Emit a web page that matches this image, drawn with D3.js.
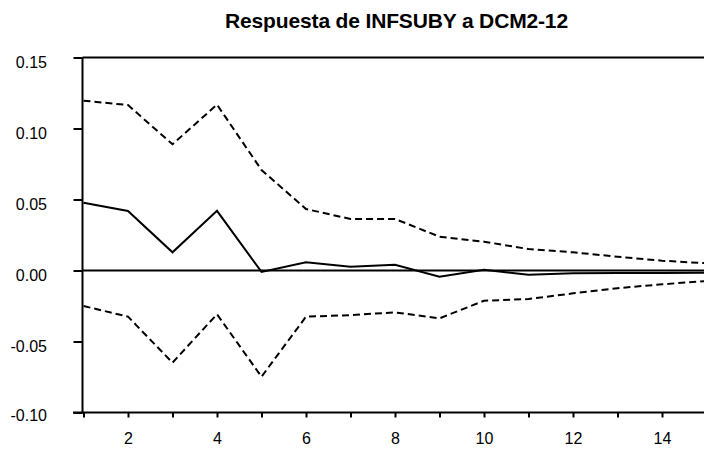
<!DOCTYPE html>
<html>
<head>
<meta charset="utf-8">
<script src="https://cdn.jsdelivr.net/npm/d3@7"></script>
<style>
    body { margin: 0; background: #fff; }
    svg { display: block; font-family: "Liberation Sans", Arial, sans-serif; }
</style>
</head>
<body>
<svg id="chart"></svg>
<script>
// periods 1..15
const periods = [1, 2, 3, 4, 5, 6, 7, 8, 9, 10, 11, 12, 13, 14, 15];
// response of INFSUBY to a DCM2-12 shock
const response = [0.0477, 0.0419, 0.0128, 0.0420, -0.0010, 0.0058, 0.0027, 0.0041, -0.0044, 0.0005, -0.0030, -0.0020, -0.0018, -0.0017, -0.0016];
// +/- 2 s.e. bands
const upperBand = [0.1196, 0.1165, 0.0889, 0.1168, 0.0708, 0.0433, 0.0363, 0.0363, 0.0238, 0.0203, 0.0151, 0.0128, 0.0097, 0.0069, 0.0051];
const lowerBand = [-0.0250, -0.0325, -0.0649, -0.0308, -0.0748, -0.0325, -0.0314, -0.0295, -0.0337, -0.0213, -0.0201, -0.0161, -0.0125, -0.0097, -0.0074];
const yTicks = [-0.10, -0.05, 0.00, 0.05, 0.10, 0.15];
const chartTitle = 'Respuesta de INFSUBY a DCM2-12';

class ImpulseVis {
    constructor(_config, _data) {
        this.config = {
            parentElement: _config.parentElement,
            name: _config.name,
            width: 704,
            height: 451,
            left: 82.5,
            right: 704,
            top: 57.5,
            bottom: 412.5
        }
        this.data = _data;
        this.initVis();
    }

    initVis() {
        let vis = this;
        const c = vis.config;

        vis.svg = d3.select(c.parentElement)
            .attr('width', c.width)
            .attr('height', c.height);

        vis.xScale = d3.scaleLinear()
            .domain([1, 15])
            .range([83.5, 706.5]);

        vis.yScale = d3.scaleLinear()
            .domain([-0.10, 0.15])
            .range([c.bottom, c.top]);

        vis.title = vis.svg.append('text')
            .attr('x', 396.5)
            .attr('y', 28)
            .attr('text-anchor', 'middle')
            .style('font-size', '21px')
            .style('font-weight', 'bold')
            .style('letter-spacing', '-0.15px')
            .text(c.name);

        vis.yAxisG = vis.svg.append('g')
            .attr('transform', `translate(${c.left},0)`);
        vis.xAxisG = vis.svg.append('g')
            .attr('transform', `translate(0,${c.bottom})`);

        vis.chart = vis.svg.append('g');
    }

    updateVis() {
        let vis = this;
        vis.line = d3.line()
            .x(d => vis.xScale(d[0]))
            .y(d => vis.yScale(d[1]));
        vis.renderVis();
    }

    renderVis() {
        let vis = this;
        const c = vis.config;

        const yAxis = d3.axisLeft(vis.yScale)
            .tickValues(yTicks)
            .tickSize(9)
            .tickSizeOuter(0)
            .tickFormat(d => d.toFixed(2));
        vis.yAxisG.call(yAxis);
        vis.yAxisG.select('.domain').remove();
        vis.yAxisG.selectAll('line').attr('stroke', '#000').attr('stroke-width', 2);
        vis.yAxisG.selectAll('text')
            .attr('x', -35.5)
            .attr('dy', d => d === -0.10 ? 8 : 10)
            .attr('fill', '#000')
            .style('font-size', '16px')
            .style('font-family', '"Liberation Sans", Arial, sans-serif');

        const xAxis = d3.axisBottom(vis.xScale)
            .tickValues(periods)
            .tickSize(5)
            .tickSizeOuter(0)
            .tickFormat(d => d % 2 === 0 ? d : '');
        vis.xAxisG.call(xAxis);
        vis.xAxisG.select('.domain').remove();
        vis.xAxisG.selectAll('line').attr('stroke', '#000').attr('stroke-width', 2);
        vis.xAxisG.selectAll('text')
            .attr('y', 0)
            .attr('dy', 31.5)
            .attr('fill', '#000')
            .style('font-size', '16px')
            .style('font-family', '"Liberation Sans", Arial, sans-serif');

        // frame and zero line
        const frame = [
            [c.left, c.top, c.right, c.top],
            [c.left, c.top, c.left, c.bottom],
            [73, c.bottom, c.right, c.bottom],
            [c.left, vis.yScale(0), c.right, vis.yScale(0)]
        ];
        vis.chart.selectAll('.frame')
            .data(frame)
            .enter()
            .append('line')
            .attr('class', 'frame')
            .attr('x1', d => d[0]).attr('y1', d => d[1])
            .attr('x2', d => d[2]).attr('y2', d => d[3])
            .attr('stroke', '#000')
            .attr('stroke-width', 2);

        vis.chart.selectAll('.series')
            .data(vis.data)
            .enter()
            .append('path')
            .attr('class', 'series')
            .attr('d', d => vis.line(d.values))
            .attr('fill', 'none')
            .attr('stroke', '#000')
            .attr('stroke-width', 2)
            .attr('stroke-linejoin', 'miter')
            .attr('stroke-dasharray', d => d.dashed ? '7,4' : null);
    }
}

const seriesData = [
    { dashed: false, values: periods.map((p, i) => [p, response[i]]) },
    { dashed: true, values: periods.map((p, i) => [p, upperBand[i]]) },
    { dashed: true, values: periods.map((p, i) => [p, lowerBand[i]]) }
];

let vis = new ImpulseVis({ parentElement: '#chart', name: chartTitle }, seriesData);
vis.updateVis();
</script>
</body>
</html>
